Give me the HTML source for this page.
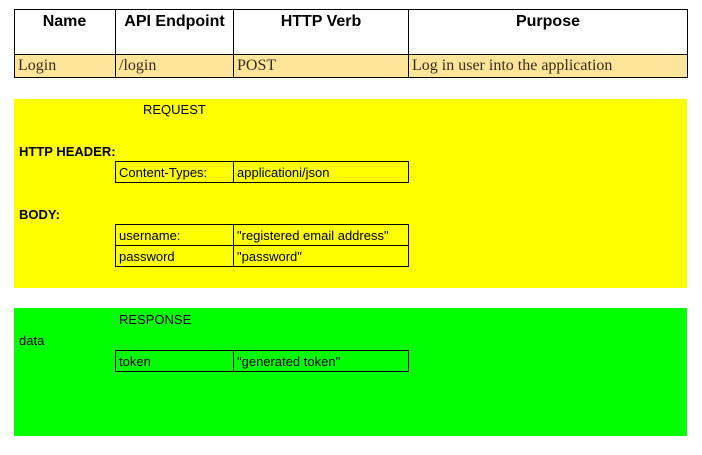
<!DOCTYPE html>
<html><head><style>
body{margin:0;width:702px;height:455px;background:#fff;position:relative;font-family:"Liberation Sans",sans-serif;overflow:hidden}
div{position:absolute;box-sizing:border-box}
.h{font-weight:bold;font-size:16px;text-align:center;top:13px;color:#000}
.s{font-family:"Liberation Serif",serif;font-size:16px;color:#3a2a1a;top:57px}
.t{font-size:13px;color:#000}
.b{border:1px solid #000}
</style></head><body>
<div style="left:14px;top:9px;width:674px;height:69px;border:1px solid #000"></div>
<div style="left:14px;top:54px;width:674px;height:24px;background:#ffe599;border:1px solid #000"></div>
<div style="left:115px;top:9px;width:1px;height:69px;background:#000"></div>
<div style="left:233px;top:9px;width:1px;height:69px;background:#000"></div>
<div style="left:408px;top:9px;width:1px;height:69px;background:#000"></div>
<div class="h" style="left:14px;width:101px">Name</div>
<div class="h" style="left:116px;width:117px">API Endpoint</div>
<div class="h" style="left:234px;width:174px">HTTP Verb</div>
<div class="h" style="left:409px;width:278px">Purpose</div>
<div class="s" style="left:18px">Login</div>
<div class="s" style="left:119px">/login</div>
<div class="s" style="left:237px">POST</div>
<div class="s" style="left:412px">Log in user into the application</div>

<div style="left:14px;top:99px;width:673px;height:189px;background:#ffff00"></div>
<div class="t" style="left:143px;top:102px">REQUEST</div>
<div class="t" style="left:19px;top:144px;font-weight:bold">HTTP HEADER:</div>
<div class="b" style="left:115px;top:161px;width:294px;height:22px"></div>
<div style="left:233px;top:161px;width:1px;height:22px;background:#000"></div>
<div class="t" style="left:119px;top:165px">Content-Types:</div>
<div class="t" style="left:237px;top:165px">applicationi/json</div>
<div class="t" style="left:19px;top:207px;font-weight:bold">BODY:</div>
<div class="b" style="left:115px;top:224px;width:294px;height:43px"></div>
<div style="left:115px;top:245px;width:294px;height:1px;background:#000"></div>
<div style="left:233px;top:224px;width:1px;height:43px;background:#000"></div>
<div class="t" style="left:119px;top:228px">username:</div>
<div class="t" style="left:237px;top:228px">"registered email address"</div>
<div class="t" style="left:119px;top:249px">password</div>
<div class="t" style="left:237px;top:249px">"password"</div>

<div style="left:14px;top:308px;width:673px;height:128px;background:#00ff00"></div>
<div class="t" style="left:119px;top:312px">RESPONSE</div>
<div class="t" style="left:19px;top:333px">data</div>
<div class="b" style="left:115px;top:350px;width:294px;height:22px"></div>
<div style="left:233px;top:350px;width:1px;height:22px;background:#000"></div>
<div class="t" style="left:119px;top:354px">token</div>
<div class="t" style="left:237px;top:354px">"generated token"</div>
</body></html>
